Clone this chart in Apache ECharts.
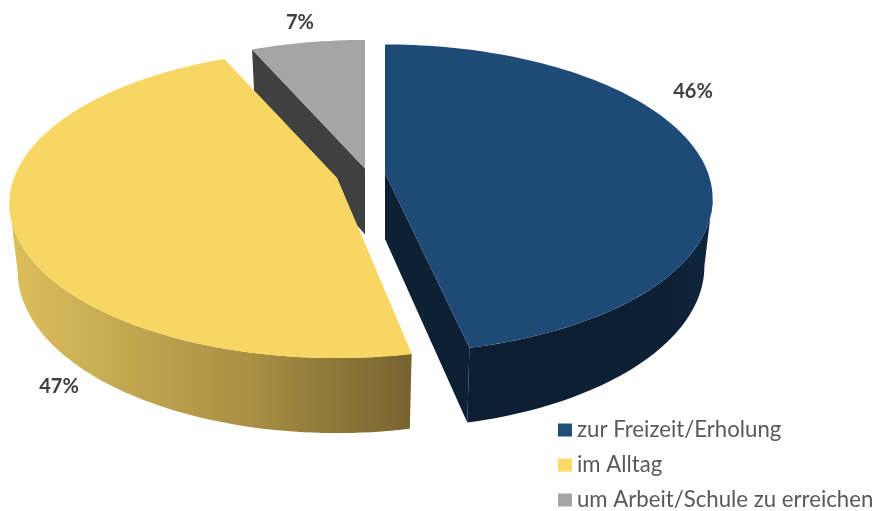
<!DOCTYPE html>
<html>

<head>
    <meta charset="utf-8" />
    <title>Pie</title>
    <script src="https://cdn.jsdelivr.net/npm/echarts@6/dist/echarts.min.js"></script>
    <style>
        html, body { margin: 0; padding: 0; background: #fff; }
        #main { width: 875px; height: 511px; }
    </style>
</head>

<body>
    <div id="main"></div>
    <script type="text/javascript">
        // data
        var categories = ['zur Freizeit/Erholung', 'im Alltag', 'um Arbeit/Schule zu erreichen'];
        var shares = [46.49, 46.91, 6.6];

        // colours
        var topColors = ['#1E4A77', '#F8D663', '#A5A5A5'];
        var legendColors = ['#1F4E79', '#FFD966', '#A5A5A5'];
        var cutColors = ['#0D2034', '#F8D663', '#404040'];
        var wallColors = [
            [[0, '#0C1E31'], [0.8, '#0D2034'], [1, '#10263C']],
            [[0, '#DDBF5D'], [0.25, '#C6AB52'], [0.6, '#A88F44'], [1, '#776330']],
            [[0, '#404040'], [1, '#404040']]
        ];

        // layout of the tilted pie: exploded centre of each slice, in pixels
        var centers = [[385, 173], [337, 178], [365, 168.5]];
        var labelPos = [[693, 92], [59, 387], [300, 23]];
        var startPad = [0, 1.5, 0];
        var sliceZ = [4, 3, 2]; // grey sits behind the yellow one
        var rx = 323, ry = 150, persp = 0.167, depth = 66, bottomShrink = 0.975;
        var sideAngle = Math.asin(persp) * 180 / Math.PI;

        // angle in degrees clockwise from 12 o'clock, z 0 = top face, 1 = bottom
        function project(center, deg, r, z) {
            var a = deg * Math.PI / 180;
            var u = Math.sin(a) * r, v = -Math.cos(a) * r;
            var s = 1 / (1 - persp * v);
            var shrink = z ? bottomShrink : 1;
            return [center[0] + rx * u * s * shrink, center[1] + ry * v * s + depth * Math.pow(s, 0.7) * z];
        }

        function rim(center, from, to, z) {
            var pts = [];
            var n = Math.ceil(Math.abs(to - from) / 1.5);
            for (var i = 0; i <= n; i++) {
                pts.push(project(center, from + (to - from) * i / n, 1, z));
            }
            return pts;
        }

        function poly(points, fill) {
            return { type: 'polygon', shape: { points: points }, style: { fill: fill } };
        }

        var total = shares.reduce(function (a, b) { return a + b; }, 0);
        var startAngles = [];
        shares.reduce(function (acc, v, i) {
            startAngles[i] = acc;
            return acc + v / total * 360;
        }, 0);

        function makeRenderItem(idx) {
            return function (params, api) {
                var from = startAngles[idx] + startPad[idx];
                var to = startAngles[idx] + api.value(0) / total * 360;
                var c = centers[idx];
                var apexTop = project(c, 0, 0, 0), apexBottom = project(c, 0, 0, 1);
                var topRim = rim(c, from, to, 0), bottomRim = rim(c, from, to, 1);
                var children = [
                    // the two cut faces
                    poly([apexTop, topRim[0], bottomRim[0], apexBottom], cutColors[idx]),
                    poly([apexTop, topRim[topRim.length - 1], bottomRim[bottomRim.length - 1], apexBottom], cutColors[idx])
                ];
                // outer wall, only the part that faces the viewer
                var wallFrom = Math.max(from, 90 + sideAngle);
                var wallTo = Math.min(to, 270 - sideAngle);
                if (wallFrom < wallTo) {
                    children.push(poly(rim(c, wallFrom, wallTo, 0).concat(rim(c, wallTo, wallFrom, 1)), {
                        type: 'linear', x: 0, y: 0, x2: 1, y2: 0,
                        colorStops: wallColors[idx].map(function (s) {
                            return { offset: s[0], color: s[1] };
                        })
                    }));
                }
                // top face
                children.push(poly([apexTop].concat(topRim), topColors[idx]));
                children.push({
                    type: 'text',
                    style: {
                        text: Math.round(api.value(0)) + '%',
                        x: labelPos[idx][0], y: labelPos[idx][1],
                        fill: '#404040', font: 'bold 20px Lato',
                        align: 'center', verticalAlign: 'middle'
                    }
                });
                return { type: 'group', children: children };
            };
        }

        var myChart = echarts.init(document.getElementById('main'));

        var option = {
            animation: false,
            backgroundColor: '#fff',
            legend: {
                orient: 'vertical',
                left: 558,
                top: 419,
                height: 140,
                padding: 0,
                data: categories,
                icon: 'rect',
                itemWidth: 14,
                itemHeight: 13,
                itemGap: 13,
                selectedMode: false,
                textStyle: { color: '#595959', fontFamily: 'Lato', fontSize: 22.2, lineHeight: 20 }
            },
            series: categories.map(function (name, i) {
                return {
                    type: 'custom',
                    name: name,
                    coordinateSystem: 'none',
                    silent: true,
                    z: sliceZ[i],
                    itemStyle: { color: legendColors[i] },
                    renderItem: makeRenderItem(i),
                    data: [[shares[i]]]
                };
            })
        };

        myChart.setOption(option);
    </script>
</body>

</html>
